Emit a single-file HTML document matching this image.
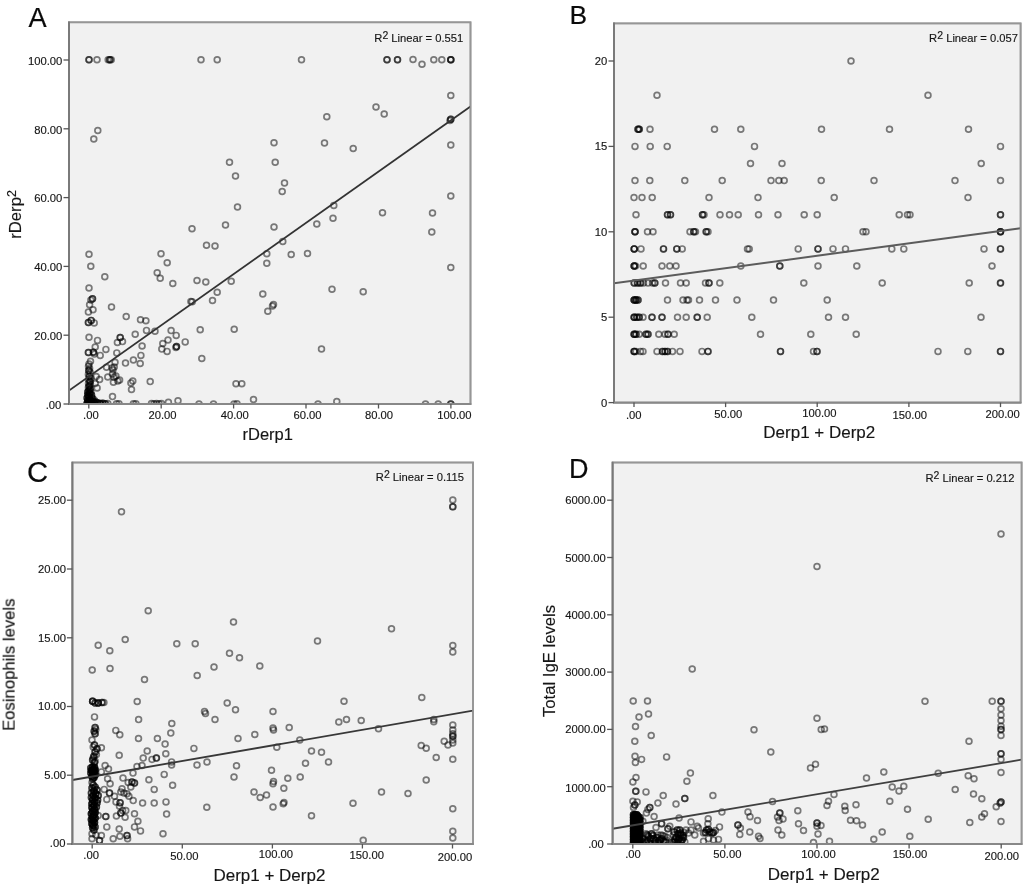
<!DOCTYPE html>
<html lang="en"><head><meta charset="utf-8"><title>Figure</title>
<style>html,body{margin:0;padding:0;background:#fff}svg{display:block}text{font-family:"Liberation Sans", sans-serif;fill:#161616;stroke:#161616;stroke-width:.15px}.tk{font-size:11.25px}.r2{font-size:11.2px}.ttl{font-size:16px;stroke-width:.15px}.let{font-size:27px;fill:#0a0a0a;stroke-width:.2px}.fr{fill:#f1f1f1;stroke:#969696;stroke-width:1.7}.t{stroke:#555;stroke-width:1.3}.ln{stroke:#3a3a3a;stroke-width:1.8}.p circle{fill:none;stroke:#000;stroke-opacity:.5;stroke-width:1.7}</style></head><body>
<svg width="1024" height="885" viewBox="0 0 1024 885">
<defs><filter id="soft" x="0" y="0" width="100%" height="100%" filterUnits="userSpaceOnUse" color-interpolation-filters="sRGB"><feGaussianBlur stdDeviation="0.45"/></filter></defs>
<rect width="1024" height="885" fill="#fff"/>
<g filter="url(#soft)">
<g id="panelA">
<clipPath id="cA"><rect x="69.0" y="22.3" width="401.5" height="381.7"/></clipPath>
<rect class="fr" x="69.0" y="22.3" width="401.5" height="381.7"/>
<g class="p" clip-path="url(#cA)">
<circle cx="89" cy="59.8" r="2.9"/>
<circle cx="89" cy="59.8" r="2.9"/>
<circle cx="97" cy="59.8" r="2.9"/>
<circle cx="108.2" cy="59.8" r="2.9"/>
<circle cx="109.8" cy="59.8" r="2.9"/>
<circle cx="109.8" cy="59.8" r="2.9"/>
<circle cx="111.2" cy="59.8" r="2.9"/>
<circle cx="201" cy="59.8" r="2.9"/>
<circle cx="217.2" cy="59.8" r="2.9"/>
<circle cx="301.5" cy="59.8" r="2.9"/>
<circle cx="97.8" cy="130.5" r="2.9"/>
<circle cx="93.8" cy="139" r="2.9"/>
<circle cx="274" cy="142.8" r="2.9"/>
<circle cx="229.5" cy="162.2" r="2.9"/>
<circle cx="275.2" cy="162.2" r="2.9"/>
<circle cx="235.5" cy="176" r="2.9"/>
<circle cx="284.5" cy="183" r="2.9"/>
<circle cx="282.2" cy="191.5" r="2.9"/>
<circle cx="237.5" cy="207" r="2.9"/>
<circle cx="225.5" cy="225" r="2.9"/>
<circle cx="192" cy="228.8" r="2.9"/>
<circle cx="274" cy="227" r="2.9"/>
<circle cx="316.8" cy="224" r="2.9"/>
<circle cx="206.5" cy="245.2" r="2.9"/>
<circle cx="215" cy="246" r="2.9"/>
<circle cx="282.8" cy="241.5" r="2.9"/>
<circle cx="266.8" cy="253.8" r="2.9"/>
<circle cx="291.2" cy="254.5" r="2.9"/>
<circle cx="307.5" cy="253.5" r="2.9"/>
<circle cx="266.8" cy="263.2" r="2.9"/>
<circle cx="89" cy="254.2" r="2.9"/>
<circle cx="90.8" cy="266.2" r="2.9"/>
<circle cx="161" cy="253.8" r="2.9"/>
<circle cx="167.2" cy="262.8" r="2.9"/>
<circle cx="157.2" cy="272.8" r="2.9"/>
<circle cx="160.2" cy="278.2" r="2.9"/>
<circle cx="104.8" cy="276.8" r="2.9"/>
<circle cx="172.8" cy="283.5" r="2.9"/>
<circle cx="197" cy="280.5" r="2.9"/>
<circle cx="205.8" cy="282" r="2.9"/>
<circle cx="231.2" cy="281.2" r="2.9"/>
<circle cx="89" cy="288" r="2.9"/>
<circle cx="217.2" cy="292.2" r="2.9"/>
<circle cx="262.8" cy="294" r="2.9"/>
<circle cx="212.5" cy="300.5" r="2.9"/>
<circle cx="192.2" cy="301.8" r="2.9"/>
<circle cx="273.5" cy="304.5" r="2.9"/>
<circle cx="272.5" cy="306" r="2.9"/>
<circle cx="267.8" cy="311.2" r="2.9"/>
<circle cx="200.2" cy="329.8" r="2.9"/>
<circle cx="234.2" cy="329.2" r="2.9"/>
<circle cx="201.8" cy="358.5" r="2.9"/>
<circle cx="236" cy="383.8" r="2.9"/>
<circle cx="241.8" cy="383.8" r="2.9"/>
<circle cx="253.5" cy="399.5" r="2.9"/>
<circle cx="199" cy="404" r="2.9"/>
<circle cx="213.5" cy="404" r="2.9"/>
<circle cx="234" cy="404" r="2.9"/>
<circle cx="237" cy="403.8" r="2.9"/>
<circle cx="92.5" cy="298.8" r="2.9"/>
<circle cx="92.5" cy="298.8" r="2.9"/>
<circle cx="90.9" cy="300" r="2.9"/>
<circle cx="89.6" cy="304.8" r="2.9"/>
<circle cx="93" cy="309.8" r="2.9"/>
<circle cx="88.4" cy="312" r="2.9"/>
<circle cx="111.5" cy="307" r="2.9"/>
<circle cx="126.2" cy="316.6" r="2.9"/>
<circle cx="88.4" cy="322.5" r="2.9"/>
<circle cx="88.4" cy="322.5" r="2.9"/>
<circle cx="91.2" cy="320.4" r="2.9"/>
<circle cx="91.2" cy="320.4" r="2.9"/>
<circle cx="94.2" cy="322.9" r="2.9"/>
<circle cx="140.5" cy="319.8" r="2.9"/>
<circle cx="145.9" cy="320.8" r="2.9"/>
<circle cx="146.5" cy="330.4" r="2.9"/>
<circle cx="155" cy="331.2" r="2.9"/>
<circle cx="171.1" cy="330.6" r="2.9"/>
<circle cx="176.2" cy="335.4" r="2.9"/>
<circle cx="135.2" cy="334.2" r="2.9"/>
<circle cx="89" cy="337.2" r="2.9"/>
<circle cx="97.5" cy="340.4" r="2.9"/>
<circle cx="120.2" cy="337.5" r="2.9"/>
<circle cx="120.2" cy="337.5" r="2.9"/>
<circle cx="117.4" cy="342.5" r="2.9"/>
<circle cx="122.5" cy="341.6" r="2.9"/>
<circle cx="168" cy="340" r="2.9"/>
<circle cx="162.8" cy="343.5" r="2.9"/>
<circle cx="185.2" cy="341.9" r="2.9"/>
<circle cx="176.5" cy="346.6" r="2.9"/>
<circle cx="176.5" cy="346.6" r="2.9"/>
<circle cx="175.9" cy="347.6" r="2.9"/>
<circle cx="142.1" cy="346" r="2.9"/>
<circle cx="161.8" cy="349.1" r="2.9"/>
<circle cx="167.1" cy="351.4" r="2.9"/>
<circle cx="95.2" cy="347" r="2.9"/>
<circle cx="105.9" cy="349.4" r="2.9"/>
<circle cx="88.4" cy="352.5" r="2.9"/>
<circle cx="88.4" cy="352.5" r="2.9"/>
<circle cx="93.4" cy="352.2" r="2.9"/>
<circle cx="93.4" cy="352.2" r="2.9"/>
<circle cx="94.4" cy="354.1" r="2.9"/>
<circle cx="100.2" cy="355.4" r="2.9"/>
<circle cx="116.8" cy="352.9" r="2.9"/>
<circle cx="140.9" cy="355.4" r="2.9"/>
<circle cx="133.4" cy="360" r="2.9"/>
<circle cx="140.2" cy="363.5" r="2.9"/>
<circle cx="125.5" cy="363.1" r="2.9"/>
<circle cx="115" cy="362.2" r="2.9"/>
<circle cx="106.5" cy="367.2" r="2.9"/>
<circle cx="112.1" cy="367.9" r="2.9"/>
<circle cx="114.2" cy="367" r="2.9"/>
<circle cx="113" cy="369.8" r="2.9"/>
<circle cx="107.8" cy="377" r="2.9"/>
<circle cx="112.5" cy="374.1" r="2.9"/>
<circle cx="114" cy="377.2" r="2.9"/>
<circle cx="113.4" cy="382.2" r="2.9"/>
<circle cx="117.8" cy="381" r="2.9"/>
<circle cx="119.6" cy="380" r="2.9"/>
<circle cx="115.9" cy="376" r="2.9"/>
<circle cx="96.2" cy="376.6" r="2.9"/>
<circle cx="99.6" cy="379.5" r="2.9"/>
<circle cx="95.2" cy="383.5" r="2.9"/>
<circle cx="97.1" cy="387.9" r="2.9"/>
<circle cx="132.8" cy="381" r="2.9"/>
<circle cx="130.9" cy="382.9" r="2.9"/>
<circle cx="150.2" cy="381.6" r="2.9"/>
<circle cx="131.5" cy="389.5" r="2.9"/>
<circle cx="112.5" cy="396.6" r="2.9"/>
<circle cx="116.5" cy="403.8" r="2.9"/>
<circle cx="119" cy="403.8" r="2.9"/>
<circle cx="133.4" cy="403.8" r="2.9"/>
<circle cx="135.9" cy="403.8" r="2.9"/>
<circle cx="151.5" cy="403.5" r="2.9"/>
<circle cx="154" cy="403.8" r="2.9"/>
<circle cx="156.5" cy="403.5" r="2.9"/>
<circle cx="159" cy="403.8" r="2.9"/>
<circle cx="161.5" cy="403.5" r="2.9"/>
<circle cx="168.4" cy="402.2" r="2.9"/>
<circle cx="178" cy="400.8" r="2.9"/>
<circle cx="190.9" cy="301.6" r="2.9"/>
<circle cx="90.5" cy="361.2" r="2.9"/>
<circle cx="89" cy="364.1" r="2.9"/>
<circle cx="88.5" cy="366.2" r="2.9"/>
<circle cx="89.6" cy="368.5" r="2.9"/>
<circle cx="88.8" cy="370.6" r="2.9"/>
<circle cx="88.8" cy="370.6" r="2.9"/>
<circle cx="90.2" cy="372.5" r="2.9"/>
<circle cx="88.4" cy="374.5" r="2.9"/>
<circle cx="89.4" cy="376.4" r="2.9"/>
<circle cx="89.4" cy="376.4" r="2.9"/>
<circle cx="90.9" cy="378.1" r="2.9"/>
<circle cx="88.8" cy="379.8" r="2.9"/>
<circle cx="90" cy="381.5" r="2.9"/>
<circle cx="90" cy="381.5" r="2.9"/>
<circle cx="88.5" cy="383.2" r="2.9"/>
<circle cx="90.5" cy="384.5" r="2.9"/>
<circle cx="89.2" cy="386" r="2.9"/>
<circle cx="89.2" cy="386" r="2.9"/>
<circle cx="88.4" cy="387.6" r="2.9"/>
<circle cx="90.2" cy="389.1" r="2.9"/>
<circle cx="90.2" cy="389.1" r="2.9"/>
<circle cx="89" cy="390.6" r="2.9"/>
<circle cx="89" cy="390.6" r="2.9"/>
<circle cx="87.8" cy="392" r="2.9"/>
<circle cx="87.8" cy="392" r="2.9"/>
<circle cx="90.9" cy="392" r="2.9"/>
<circle cx="89.6" cy="393.5" r="2.9"/>
<circle cx="89.6" cy="393.5" r="2.9"/>
<circle cx="89.6" cy="393.5" r="2.9"/>
<circle cx="87.8" cy="395" r="2.9"/>
<circle cx="87.8" cy="395" r="2.9"/>
<circle cx="91.5" cy="395" r="2.9"/>
<circle cx="91.5" cy="395" r="2.9"/>
<circle cx="89" cy="396.6" r="2.9"/>
<circle cx="89" cy="396.6" r="2.9"/>
<circle cx="89" cy="396.6" r="2.9"/>
<circle cx="87.1" cy="397.9" r="2.9"/>
<circle cx="87.1" cy="397.9" r="2.9"/>
<circle cx="92.1" cy="397.9" r="2.9"/>
<circle cx="92.1" cy="397.9" r="2.9"/>
<circle cx="89.6" cy="399.1" r="2.9"/>
<circle cx="89.6" cy="399.1" r="2.9"/>
<circle cx="89.6" cy="399.1" r="2.9"/>
<circle cx="94" cy="399.8" r="2.9"/>
<circle cx="87.8" cy="400.8" r="2.9"/>
<circle cx="87.8" cy="400.8" r="2.9"/>
<circle cx="87.8" cy="400.8" r="2.9"/>
<circle cx="90.9" cy="401" r="2.9"/>
<circle cx="90.9" cy="401" r="2.9"/>
<circle cx="90.9" cy="401" r="2.9"/>
<circle cx="93.4" cy="401.6" r="2.9"/>
<circle cx="93.4" cy="401.6" r="2.9"/>
<circle cx="95.9" cy="402" r="2.9"/>
<circle cx="95.9" cy="402" r="2.9"/>
<circle cx="89" cy="402.5" r="2.9"/>
<circle cx="89" cy="402.5" r="2.9"/>
<circle cx="89" cy="402.5" r="2.9"/>
<circle cx="89" cy="402.5" r="2.9"/>
<circle cx="91.5" cy="402.9" r="2.9"/>
<circle cx="91.5" cy="402.9" r="2.9"/>
<circle cx="91.5" cy="402.9" r="2.9"/>
<circle cx="94.6" cy="403.2" r="2.9"/>
<circle cx="94.6" cy="403.2" r="2.9"/>
<circle cx="94.6" cy="403.2" r="2.9"/>
<circle cx="97.8" cy="403" r="2.9"/>
<circle cx="97.8" cy="403" r="2.9"/>
<circle cx="100.2" cy="403.5" r="2.9"/>
<circle cx="100.2" cy="403.5" r="2.9"/>
<circle cx="100.2" cy="403.5" r="2.9"/>
<circle cx="102.8" cy="403.2" r="2.9"/>
<circle cx="102.8" cy="403.2" r="2.9"/>
<circle cx="105.2" cy="403.8" r="2.9"/>
<circle cx="105.2" cy="403.8" r="2.9"/>
<circle cx="107.8" cy="403.5" r="2.9"/>
<circle cx="87.1" cy="403.5" r="2.9"/>
<circle cx="87.1" cy="403.5" r="2.9"/>
<circle cx="87.1" cy="403.5" r="2.9"/>
<circle cx="89.6" cy="404" r="2.9"/>
<circle cx="89.6" cy="404" r="2.9"/>
<circle cx="89.6" cy="404" r="2.9"/>
<circle cx="89.6" cy="404" r="2.9"/>
<circle cx="92.1" cy="404" r="2.9"/>
<circle cx="92.1" cy="404" r="2.9"/>
<circle cx="92.1" cy="404" r="2.9"/>
<circle cx="387" cy="59.8" r="2.9"/>
<circle cx="387" cy="59.8" r="2.9"/>
<circle cx="397.5" cy="59.8" r="2.9"/>
<circle cx="397.5" cy="59.8" r="2.9"/>
<circle cx="413" cy="59.5" r="2.9"/>
<circle cx="422" cy="64.2" r="2.9"/>
<circle cx="433.8" cy="59.8" r="2.9"/>
<circle cx="441.8" cy="59.8" r="2.9"/>
<circle cx="450.8" cy="59.8" r="2.9"/>
<circle cx="450.8" cy="59.8" r="2.9"/>
<circle cx="450.8" cy="59.8" r="2.9"/>
<circle cx="450.8" cy="95.5" r="2.9"/>
<circle cx="376" cy="107" r="2.9"/>
<circle cx="384.2" cy="114" r="2.9"/>
<circle cx="326.8" cy="116.8" r="2.9"/>
<circle cx="450.8" cy="119.2" r="2.9"/>
<circle cx="450.8" cy="119.2" r="2.9"/>
<circle cx="450" cy="120.5" r="2.9"/>
<circle cx="324.5" cy="143" r="2.9"/>
<circle cx="353.2" cy="148.5" r="2.9"/>
<circle cx="450.8" cy="145" r="2.9"/>
<circle cx="450.8" cy="196" r="2.9"/>
<circle cx="333.8" cy="205.5" r="2.9"/>
<circle cx="333" cy="218.2" r="2.9"/>
<circle cx="382.5" cy="212.8" r="2.9"/>
<circle cx="432.5" cy="213" r="2.9"/>
<circle cx="431.8" cy="232" r="2.9"/>
<circle cx="450.8" cy="267.5" r="2.9"/>
<circle cx="332" cy="289.2" r="2.9"/>
<circle cx="363.2" cy="291.8" r="2.9"/>
<circle cx="321.5" cy="349" r="2.9"/>
<circle cx="336.8" cy="401.5" r="2.9"/>
<circle cx="318" cy="404" r="2.9"/>
<circle cx="425.5" cy="404" r="2.9"/>
<circle cx="438.2" cy="404" r="2.9"/>
<circle cx="450.8" cy="404" r="2.9"/>
<circle cx="450.8" cy="404" r="2.9"/>
<line x1="69.0" y1="390.6" x2="470.5" y2="106.5" stroke="#333" stroke-width="1.8"/>
</g>
<rect x="69.0" y="22.3" width="401.5" height="381.7" fill="none" stroke="#969696" stroke-width="1.7"/>
<path d="M69.0 21.5V404.0" fill="none" stroke="#787878" stroke-width="1.8"/>
<path d="M68.1 404.0H471.3" fill="none" stroke="#888" stroke-width="1.8"/>
<line class="t" x1="88.8" y1="404.0" x2="88.8" y2="408.5"/>
<text class="tk" text-anchor="middle" x="90.9" y="419.4">.00</text>
<line class="t" x1="161.2" y1="404.0" x2="161.2" y2="408.5"/>
<text class="tk" text-anchor="middle" x="162.5" y="419.1">20.00</text>
<line class="t" x1="233.6" y1="404.0" x2="233.6" y2="408.5"/>
<text class="tk" text-anchor="middle" x="234.8" y="418.9">40.00</text>
<line class="t" x1="306" y1="404.0" x2="306" y2="408.5"/>
<text class="tk" text-anchor="middle" x="307.5" y="419.4">60.00</text>
<line class="t" x1="378.5" y1="404.0" x2="378.5" y2="408.5"/>
<text class="tk" text-anchor="middle" x="379" y="419.4">80.00</text>
<line class="t" x1="450.9" y1="404.0" x2="450.9" y2="408.5"/>
<text class="tk" text-anchor="middle" x="454.4" y="419.4">100.00</text>
<line class="t" x1="63.5" y1="404" x2="69.0" y2="404"/>
<text class="tk" text-anchor="end" x="61.3" y="408.8">.00</text>
<line class="t" x1="63.5" y1="335.2" x2="69.0" y2="335.2"/>
<text class="tk" text-anchor="end" x="62.3" y="340">20.00</text>
<line class="t" x1="63.5" y1="266.4" x2="69.0" y2="266.4"/>
<text class="tk" text-anchor="end" x="62.3" y="271.2">40.00</text>
<line class="t" x1="63.5" y1="197.6" x2="69.0" y2="197.6"/>
<text class="tk" text-anchor="end" x="62.3" y="202.4">60.00</text>
<line class="t" x1="63.5" y1="128.8" x2="69.0" y2="128.8"/>
<text class="tk" text-anchor="end" x="62.3" y="133.6">80.00</text>
<line class="t" x1="63.5" y1="60" x2="69.0" y2="60"/>
<text class="tk" text-anchor="end" x="62.3" y="64.8">100.00</text>
<text class="r2" text-anchor="end" x="463.2" y="42.0">R<tspan dy="-3" font-size="10.5">2</tspan><tspan dy="3"> Linear = 0.551</tspan></text>
<text class="let" style="font-size:27.2px" x="28.5" y="27.0">A</text>
<text class="ttl" style="font-size:16.5px" text-anchor="middle" x="267.7" y="439.5">rDerp1</text>
<text class="ttl" style="font-size:16.7px" transform="translate(21.2 238.8) rotate(-90)">rDerp<tspan dy="-5" font-size="12.5">2</tspan></text>
</g>
<g id="panelB">
<clipPath id="cB"><rect x="614.0" y="23.4" width="406.6" height="379.2"/></clipPath>
<rect class="fr" x="614.0" y="23.4" width="406.6" height="379.2"/>
<g class="p" clip-path="url(#cB)">
<circle cx="851" cy="61" r="2.9"/>
<circle cx="657" cy="95.2" r="2.9"/>
<circle cx="638" cy="129.3" r="2.9"/>
<circle cx="638" cy="129.3" r="2.9"/>
<circle cx="639.2" cy="129.3" r="2.9"/>
<circle cx="639.2" cy="129.3" r="2.9"/>
<circle cx="650" cy="129.3" r="2.9"/>
<circle cx="714.5" cy="129.3" r="2.9"/>
<circle cx="740.8" cy="129.3" r="2.9"/>
<circle cx="821.5" cy="129.3" r="2.9"/>
<circle cx="635" cy="146.4" r="2.9"/>
<circle cx="650.2" cy="146.4" r="2.9"/>
<circle cx="667.2" cy="146.4" r="2.9"/>
<circle cx="754.5" cy="146.4" r="2.9"/>
<circle cx="750.5" cy="163.5" r="2.9"/>
<circle cx="782" cy="163.5" r="2.9"/>
<circle cx="635" cy="180.6" r="2.9"/>
<circle cx="649.8" cy="180.6" r="2.9"/>
<circle cx="684.8" cy="180.6" r="2.9"/>
<circle cx="722.2" cy="180.6" r="2.9"/>
<circle cx="771" cy="180.6" r="2.9"/>
<circle cx="778.8" cy="180.6" r="2.9"/>
<circle cx="784.2" cy="180.6" r="2.9"/>
<circle cx="821.2" cy="180.6" r="2.9"/>
<circle cx="634" cy="197.6" r="2.9"/>
<circle cx="642" cy="197.6" r="2.9"/>
<circle cx="652.2" cy="197.6" r="2.9"/>
<circle cx="709" cy="197.6" r="2.9"/>
<circle cx="758" cy="197.6" r="2.9"/>
<circle cx="834.2" cy="197.6" r="2.9"/>
<circle cx="636" cy="214.7" r="2.9"/>
<circle cx="667.5" cy="214.7" r="2.9"/>
<circle cx="667.5" cy="214.7" r="2.9"/>
<circle cx="670.5" cy="214.7" r="2.9"/>
<circle cx="670.5" cy="214.7" r="2.9"/>
<circle cx="702.5" cy="214.7" r="2.9"/>
<circle cx="702.5" cy="214.7" r="2.9"/>
<circle cx="704" cy="214.7" r="2.9"/>
<circle cx="720" cy="214.7" r="2.9"/>
<circle cx="729.5" cy="214.7" r="2.9"/>
<circle cx="738.2" cy="214.7" r="2.9"/>
<circle cx="758.5" cy="214.7" r="2.9"/>
<circle cx="778" cy="214.7" r="2.9"/>
<circle cx="804.2" cy="214.7" r="2.9"/>
<circle cx="817.2" cy="214.7" r="2.9"/>
<circle cx="635" cy="231.8" r="2.9"/>
<circle cx="635" cy="231.8" r="2.9"/>
<circle cx="635" cy="231.8" r="2.9"/>
<circle cx="647.5" cy="231.8" r="2.9"/>
<circle cx="653" cy="231.8" r="2.9"/>
<circle cx="690" cy="231.8" r="2.9"/>
<circle cx="693.8" cy="231.8" r="2.9"/>
<circle cx="693.8" cy="231.8" r="2.9"/>
<circle cx="695.5" cy="231.8" r="2.9"/>
<circle cx="706.2" cy="231.8" r="2.9"/>
<circle cx="706.2" cy="231.8" r="2.9"/>
<circle cx="708" cy="231.8" r="2.9"/>
<circle cx="634.2" cy="248.9" r="2.9"/>
<circle cx="634.2" cy="248.9" r="2.9"/>
<circle cx="634.2" cy="248.9" r="2.9"/>
<circle cx="641" cy="248.9" r="2.9"/>
<circle cx="663.5" cy="248.9" r="2.9"/>
<circle cx="663.5" cy="248.9" r="2.9"/>
<circle cx="676.8" cy="248.9" r="2.9"/>
<circle cx="676.8" cy="248.9" r="2.9"/>
<circle cx="682.2" cy="248.9" r="2.9"/>
<circle cx="747.5" cy="248.9" r="2.9"/>
<circle cx="749.2" cy="248.9" r="2.9"/>
<circle cx="798.2" cy="248.9" r="2.9"/>
<circle cx="818" cy="248.9" r="2.9"/>
<circle cx="818" cy="248.9" r="2.9"/>
<circle cx="833" cy="248.9" r="2.9"/>
<circle cx="845.5" cy="248.9" r="2.9"/>
<circle cx="634.2" cy="266" r="2.9"/>
<circle cx="634.2" cy="266" r="2.9"/>
<circle cx="634.2" cy="266" r="2.9"/>
<circle cx="635.5" cy="266" r="2.9"/>
<circle cx="643.2" cy="266" r="2.9"/>
<circle cx="662" cy="266" r="2.9"/>
<circle cx="669.8" cy="266" r="2.9"/>
<circle cx="676" cy="266" r="2.9"/>
<circle cx="740.8" cy="266" r="2.9"/>
<circle cx="779.8" cy="266" r="2.9"/>
<circle cx="779.8" cy="266" r="2.9"/>
<circle cx="818" cy="266" r="2.9"/>
<circle cx="856.8" cy="266" r="2.9"/>
<circle cx="634.2" cy="283" r="2.9"/>
<circle cx="634.2" cy="283" r="2.9"/>
<circle cx="637.5" cy="283" r="2.9"/>
<circle cx="637.5" cy="283" r="2.9"/>
<circle cx="640.5" cy="283" r="2.9"/>
<circle cx="640.5" cy="283" r="2.9"/>
<circle cx="643.5" cy="283" r="2.9"/>
<circle cx="648" cy="283" r="2.9"/>
<circle cx="652.5" cy="283" r="2.9"/>
<circle cx="654.8" cy="283" r="2.9"/>
<circle cx="654.8" cy="283" r="2.9"/>
<circle cx="665.5" cy="283" r="2.9"/>
<circle cx="680.5" cy="283" r="2.9"/>
<circle cx="686.2" cy="283" r="2.9"/>
<circle cx="705.5" cy="283" r="2.9"/>
<circle cx="709" cy="283" r="2.9"/>
<circle cx="709" cy="283" r="2.9"/>
<circle cx="719.8" cy="283" r="2.9"/>
<circle cx="803.8" cy="283" r="2.9"/>
<circle cx="634.2" cy="300.1" r="2.9"/>
<circle cx="634.2" cy="300.1" r="2.9"/>
<circle cx="634.2" cy="300.1" r="2.9"/>
<circle cx="636" cy="300.1" r="2.9"/>
<circle cx="636" cy="300.1" r="2.9"/>
<circle cx="636" cy="300.1" r="2.9"/>
<circle cx="638" cy="300.1" r="2.9"/>
<circle cx="638" cy="300.1" r="2.9"/>
<circle cx="667.5" cy="300.1" r="2.9"/>
<circle cx="683" cy="300.1" r="2.9"/>
<circle cx="687" cy="300.1" r="2.9"/>
<circle cx="688.5" cy="300.1" r="2.9"/>
<circle cx="699.5" cy="300.1" r="2.9"/>
<circle cx="715.5" cy="300.1" r="2.9"/>
<circle cx="737" cy="300.1" r="2.9"/>
<circle cx="773.5" cy="300.1" r="2.9"/>
<circle cx="827.2" cy="300.1" r="2.9"/>
<circle cx="634.2" cy="317.2" r="2.9"/>
<circle cx="634.2" cy="317.2" r="2.9"/>
<circle cx="634.2" cy="317.2" r="2.9"/>
<circle cx="636.8" cy="317.2" r="2.9"/>
<circle cx="636.8" cy="317.2" r="2.9"/>
<circle cx="639.2" cy="317.2" r="2.9"/>
<circle cx="639.2" cy="317.2" r="2.9"/>
<circle cx="643" cy="317.2" r="2.9"/>
<circle cx="652" cy="317.2" r="2.9"/>
<circle cx="652" cy="317.2" r="2.9"/>
<circle cx="662" cy="317.2" r="2.9"/>
<circle cx="662" cy="317.2" r="2.9"/>
<circle cx="677.5" cy="317.2" r="2.9"/>
<circle cx="686.2" cy="317.2" r="2.9"/>
<circle cx="697.2" cy="317.2" r="2.9"/>
<circle cx="697.2" cy="317.2" r="2.9"/>
<circle cx="707.2" cy="317.2" r="2.9"/>
<circle cx="751.8" cy="317.2" r="2.9"/>
<circle cx="828.5" cy="317.2" r="2.9"/>
<circle cx="845.5" cy="317.2" r="2.9"/>
<circle cx="634.2" cy="334.3" r="2.9"/>
<circle cx="634.2" cy="334.3" r="2.9"/>
<circle cx="634.2" cy="334.3" r="2.9"/>
<circle cx="636" cy="334.3" r="2.9"/>
<circle cx="636" cy="334.3" r="2.9"/>
<circle cx="639.2" cy="334.3" r="2.9"/>
<circle cx="646" cy="334.3" r="2.9"/>
<circle cx="646" cy="334.3" r="2.9"/>
<circle cx="648" cy="334.3" r="2.9"/>
<circle cx="648" cy="334.3" r="2.9"/>
<circle cx="658.8" cy="334.3" r="2.9"/>
<circle cx="665" cy="334.3" r="2.9"/>
<circle cx="668" cy="334.3" r="2.9"/>
<circle cx="668" cy="334.3" r="2.9"/>
<circle cx="674.2" cy="334.3" r="2.9"/>
<circle cx="760.5" cy="334.3" r="2.9"/>
<circle cx="810.8" cy="334.3" r="2.9"/>
<circle cx="856.2" cy="334.3" r="2.9"/>
<circle cx="634.2" cy="351.4" r="2.9"/>
<circle cx="634.2" cy="351.4" r="2.9"/>
<circle cx="634.2" cy="351.4" r="2.9"/>
<circle cx="636" cy="351.4" r="2.9"/>
<circle cx="640.5" cy="351.4" r="2.9"/>
<circle cx="643" cy="351.4" r="2.9"/>
<circle cx="657" cy="351.4" r="2.9"/>
<circle cx="662.5" cy="351.4" r="2.9"/>
<circle cx="662.5" cy="351.4" r="2.9"/>
<circle cx="665" cy="351.4" r="2.9"/>
<circle cx="665" cy="351.4" r="2.9"/>
<circle cx="667.5" cy="351.4" r="2.9"/>
<circle cx="667.5" cy="351.4" r="2.9"/>
<circle cx="672.5" cy="351.4" r="2.9"/>
<circle cx="680" cy="351.4" r="2.9"/>
<circle cx="702" cy="351.4" r="2.9"/>
<circle cx="708" cy="351.4" r="2.9"/>
<circle cx="708" cy="351.4" r="2.9"/>
<circle cx="780.5" cy="351.4" r="2.9"/>
<circle cx="780.5" cy="351.4" r="2.9"/>
<circle cx="813.5" cy="351.4" r="2.9"/>
<circle cx="817" cy="351.4" r="2.9"/>
<circle cx="817" cy="351.4" r="2.9"/>
<circle cx="928" cy="95.2" r="2.9"/>
<circle cx="889.5" cy="129.3" r="2.9"/>
<circle cx="968.5" cy="129.3" r="2.9"/>
<circle cx="1000.5" cy="146.4" r="2.9"/>
<circle cx="981.2" cy="163.5" r="2.9"/>
<circle cx="874" cy="180.6" r="2.9"/>
<circle cx="955" cy="180.6" r="2.9"/>
<circle cx="1000.5" cy="180.6" r="2.9"/>
<circle cx="968" cy="197.6" r="2.9"/>
<circle cx="899.2" cy="214.7" r="2.9"/>
<circle cx="907.5" cy="214.7" r="2.9"/>
<circle cx="910" cy="214.7" r="2.9"/>
<circle cx="1000.5" cy="214.7" r="2.9"/>
<circle cx="1000.5" cy="214.7" r="2.9"/>
<circle cx="863" cy="231.8" r="2.9"/>
<circle cx="866" cy="231.8" r="2.9"/>
<circle cx="1000.5" cy="231.8" r="2.9"/>
<circle cx="1000.5" cy="231.8" r="2.9"/>
<circle cx="1000.5" cy="231.8" r="2.9"/>
<circle cx="891.8" cy="248.9" r="2.9"/>
<circle cx="903.8" cy="248.9" r="2.9"/>
<circle cx="984" cy="248.9" r="2.9"/>
<circle cx="1000.5" cy="248.9" r="2.9"/>
<circle cx="1000.5" cy="248.9" r="2.9"/>
<circle cx="992" cy="266" r="2.9"/>
<circle cx="882.2" cy="283" r="2.9"/>
<circle cx="969.2" cy="283" r="2.9"/>
<circle cx="1000.5" cy="283" r="2.9"/>
<circle cx="1000.5" cy="283" r="2.9"/>
<circle cx="981" cy="317.2" r="2.9"/>
<circle cx="938" cy="351.4" r="2.9"/>
<circle cx="967.8" cy="351.4" r="2.9"/>
<circle cx="1000.5" cy="351.4" r="2.9"/>
<circle cx="1000.5" cy="351.4" r="2.9"/>
<line x1="614.0" y1="283.2" x2="1020.6" y2="228.2" stroke="#5c5c5c" stroke-width="2.0"/>
</g>
<rect x="614.0" y="23.4" width="406.6" height="379.2" fill="none" stroke="#969696" stroke-width="1.7"/>
<path d="M614.0 22.6V402.6" fill="none" stroke="#787878" stroke-width="1.8"/>
<path d="M613.1 402.6H1021.4" fill="none" stroke="#888" stroke-width="1.8"/>
<line class="t" x1="634" y1="402.6" x2="634" y2="407.1"/>
<text class="tk" text-anchor="middle" x="633.8" y="419">.00</text>
<line class="t" x1="725.6" y1="402.6" x2="725.6" y2="407.1"/>
<text class="tk" text-anchor="middle" x="728.3" y="418.3">50.00</text>
<line class="t" x1="817.2" y1="402.6" x2="817.2" y2="407.1"/>
<text class="tk" text-anchor="middle" x="819.4" y="417">100.00</text>
<line class="t" x1="908.9" y1="402.6" x2="908.9" y2="407.1"/>
<text class="tk" text-anchor="middle" x="909.8" y="419.2">150.00</text>
<line class="t" x1="1000.5" y1="402.6" x2="1000.5" y2="407.1"/>
<text class="tk" text-anchor="middle" x="1002.6" y="418">200.00</text>
<line class="t" x1="608.5" y1="402.6" x2="614.0" y2="402.6"/>
<text class="tk" text-anchor="end" x="607.2" y="406.6">0</text>
<line class="t" x1="608.5" y1="317.2" x2="614.0" y2="317.2"/>
<text class="tk" text-anchor="end" x="607.2" y="321.2">5</text>
<line class="t" x1="608.5" y1="231.8" x2="614.0" y2="231.8"/>
<text class="tk" text-anchor="end" x="607.2" y="235.8">10</text>
<line class="t" x1="608.5" y1="146.4" x2="614.0" y2="146.4"/>
<text class="tk" text-anchor="end" x="607.2" y="150.4">15</text>
<line class="t" x1="608.5" y1="61" x2="614.0" y2="61"/>
<text class="tk" text-anchor="end" x="607.2" y="65">20</text>
<text class="r2" text-anchor="end" x="1018.0" y="41.7">R<tspan dy="-3" font-size="10.5">2</tspan><tspan dy="3"> Linear = 0.057</tspan></text>
<text class="let" style="font-size:26.4px" x="569.5" y="23.8">B</text>
<text class="ttl" style="font-size:17px" text-anchor="middle" x="819.3" y="438.0">Derp1 + Derp2</text>
</g>
<g id="panelC">
<clipPath id="cC"><rect x="72.4" y="462.5" width="400.6" height="381.5"/></clipPath>
<rect class="fr" x="72.4" y="462.5" width="400.6" height="381.5"/>
<g class="p" clip-path="url(#cC)">
<circle cx="121.5" cy="511.8" r="2.9"/>
<circle cx="148.2" cy="610.8" r="2.9"/>
<circle cx="233.5" cy="622" r="2.9"/>
<circle cx="125.2" cy="639.5" r="2.9"/>
<circle cx="98.2" cy="645.2" r="2.9"/>
<circle cx="109.8" cy="650.8" r="2.9"/>
<circle cx="176.8" cy="643.8" r="2.9"/>
<circle cx="195.2" cy="643.8" r="2.9"/>
<circle cx="317.5" cy="641" r="2.9"/>
<circle cx="229.5" cy="653.2" r="2.9"/>
<circle cx="239.5" cy="657.8" r="2.9"/>
<circle cx="214" cy="667" r="2.9"/>
<circle cx="259.8" cy="666" r="2.9"/>
<circle cx="92.2" cy="670" r="2.9"/>
<circle cx="110" cy="668.5" r="2.9"/>
<circle cx="197.2" cy="675.5" r="2.9"/>
<circle cx="144.5" cy="679.5" r="2.9"/>
<circle cx="204.5" cy="711.5" r="2.9"/>
<circle cx="205.5" cy="713.5" r="2.9"/>
<circle cx="227.2" cy="703" r="2.9"/>
<circle cx="235.5" cy="709.8" r="2.9"/>
<circle cx="215" cy="719.5" r="2.9"/>
<circle cx="273" cy="711.5" r="2.9"/>
<circle cx="273" cy="728" r="2.9"/>
<circle cx="273.5" cy="730" r="2.9"/>
<circle cx="289.2" cy="727.5" r="2.9"/>
<circle cx="254.8" cy="734.5" r="2.9"/>
<circle cx="238" cy="738.5" r="2.9"/>
<circle cx="299.8" cy="740" r="2.9"/>
<circle cx="276.8" cy="747.2" r="2.9"/>
<circle cx="311.5" cy="751" r="2.9"/>
<circle cx="207" cy="762" r="2.9"/>
<circle cx="236.5" cy="765.8" r="2.9"/>
<circle cx="305.5" cy="763.2" r="2.9"/>
<circle cx="271.5" cy="770.2" r="2.9"/>
<circle cx="234" cy="777" r="2.9"/>
<circle cx="287.8" cy="778.2" r="2.9"/>
<circle cx="300.2" cy="777" r="2.9"/>
<circle cx="273.5" cy="781.5" r="2.9"/>
<circle cx="273" cy="783.8" r="2.9"/>
<circle cx="283.8" cy="788.2" r="2.9"/>
<circle cx="254" cy="792" r="2.9"/>
<circle cx="266.5" cy="795" r="2.9"/>
<circle cx="260.2" cy="797.5" r="2.9"/>
<circle cx="284" cy="802.5" r="2.9"/>
<circle cx="283.2" cy="803.8" r="2.9"/>
<circle cx="273" cy="807" r="2.9"/>
<circle cx="206.8" cy="807.2" r="2.9"/>
<circle cx="311.5" cy="815.8" r="2.9"/>
<circle cx="92.6" cy="701.2" r="2.9"/>
<circle cx="92.6" cy="701.2" r="2.9"/>
<circle cx="92.6" cy="701.2" r="2.9"/>
<circle cx="95.1" cy="703.1" r="2.9"/>
<circle cx="95.1" cy="703.1" r="2.9"/>
<circle cx="98.2" cy="703.1" r="2.9"/>
<circle cx="98.2" cy="703.1" r="2.9"/>
<circle cx="98.2" cy="703.1" r="2.9"/>
<circle cx="102" cy="702.5" r="2.9"/>
<circle cx="102" cy="702.5" r="2.9"/>
<circle cx="103.9" cy="702.5" r="2.9"/>
<circle cx="137.2" cy="701.5" r="2.9"/>
<circle cx="94.5" cy="716.9" r="2.9"/>
<circle cx="138.6" cy="719.6" r="2.9"/>
<circle cx="171.8" cy="723.5" r="2.9"/>
<circle cx="95.1" cy="727.5" r="2.9"/>
<circle cx="95.1" cy="727.5" r="2.9"/>
<circle cx="94.2" cy="731.2" r="2.9"/>
<circle cx="94.2" cy="731.2" r="2.9"/>
<circle cx="95.1" cy="733.8" r="2.9"/>
<circle cx="95.1" cy="733.8" r="2.9"/>
<circle cx="115.8" cy="730.4" r="2.9"/>
<circle cx="119.8" cy="734.8" r="2.9"/>
<circle cx="170.8" cy="733.1" r="2.9"/>
<circle cx="92" cy="740" r="2.9"/>
<circle cx="138.5" cy="738.5" r="2.9"/>
<circle cx="157.4" cy="738.5" r="2.9"/>
<circle cx="165.1" cy="744.1" r="2.9"/>
<circle cx="94.5" cy="745" r="2.9"/>
<circle cx="94.5" cy="745" r="2.9"/>
<circle cx="101.4" cy="747.8" r="2.9"/>
<circle cx="97" cy="748.8" r="2.9"/>
<circle cx="97" cy="748.8" r="2.9"/>
<circle cx="95.1" cy="751.9" r="2.9"/>
<circle cx="95.1" cy="751.9" r="2.9"/>
<circle cx="193.9" cy="748.4" r="2.9"/>
<circle cx="147.2" cy="751" r="2.9"/>
<circle cx="165.8" cy="753.8" r="2.9"/>
<circle cx="119.2" cy="755.2" r="2.9"/>
<circle cx="143.2" cy="758.1" r="2.9"/>
<circle cx="93.9" cy="756.2" r="2.9"/>
<circle cx="93.9" cy="756.2" r="2.9"/>
<circle cx="92.6" cy="760" r="2.9"/>
<circle cx="92.6" cy="760" r="2.9"/>
<circle cx="94.5" cy="762.5" r="2.9"/>
<circle cx="94.5" cy="762.5" r="2.9"/>
<circle cx="152" cy="759.4" r="2.9"/>
<circle cx="156.4" cy="758.1" r="2.9"/>
<circle cx="156.4" cy="758.1" r="2.9"/>
<circle cx="171.6" cy="761.9" r="2.9"/>
<circle cx="171.6" cy="765" r="2.9"/>
<circle cx="197" cy="765" r="2.9"/>
<circle cx="105.1" cy="765.6" r="2.9"/>
<circle cx="108.5" cy="769" r="2.9"/>
<circle cx="137" cy="766.5" r="2.9"/>
<circle cx="142" cy="765.6" r="2.9"/>
<circle cx="101.4" cy="771.9" r="2.9"/>
<circle cx="133" cy="773.1" r="2.9"/>
<circle cx="164.2" cy="774.4" r="2.9"/>
<circle cx="107.6" cy="778.8" r="2.9"/>
<circle cx="123" cy="778.1" r="2.9"/>
<circle cx="148.9" cy="779.8" r="2.9"/>
<circle cx="95.8" cy="729.4" r="2.9"/>
<circle cx="93.2" cy="746.9" r="2.9"/>
<circle cx="96.4" cy="754.4" r="2.9"/>
<circle cx="93.2" cy="758.1" r="2.9"/>
<circle cx="95.1" cy="761" r="2.9"/>
<circle cx="92.6" cy="766.9" r="2.9"/>
<circle cx="92.6" cy="766.9" r="2.9"/>
<circle cx="92.6" cy="766.9" r="2.9"/>
<circle cx="94.5" cy="767.5" r="2.9"/>
<circle cx="94.5" cy="767.5" r="2.9"/>
<circle cx="94.5" cy="767.5" r="2.9"/>
<circle cx="90.8" cy="768.1" r="2.9"/>
<circle cx="90.8" cy="768.1" r="2.9"/>
<circle cx="93.2" cy="769.4" r="2.9"/>
<circle cx="93.2" cy="769.4" r="2.9"/>
<circle cx="93.2" cy="769.4" r="2.9"/>
<circle cx="93.2" cy="769.4" r="2.9"/>
<circle cx="95.1" cy="770" r="2.9"/>
<circle cx="95.1" cy="770" r="2.9"/>
<circle cx="95.1" cy="770" r="2.9"/>
<circle cx="91.4" cy="770.6" r="2.9"/>
<circle cx="91.4" cy="770.6" r="2.9"/>
<circle cx="91.4" cy="770.6" r="2.9"/>
<circle cx="92.6" cy="771.9" r="2.9"/>
<circle cx="92.6" cy="771.9" r="2.9"/>
<circle cx="92.6" cy="771.9" r="2.9"/>
<circle cx="92.6" cy="771.9" r="2.9"/>
<circle cx="94.5" cy="772.5" r="2.9"/>
<circle cx="94.5" cy="772.5" r="2.9"/>
<circle cx="94.5" cy="772.5" r="2.9"/>
<circle cx="90.8" cy="773.1" r="2.9"/>
<circle cx="90.8" cy="773.1" r="2.9"/>
<circle cx="93.2" cy="774.4" r="2.9"/>
<circle cx="93.2" cy="774.4" r="2.9"/>
<circle cx="93.2" cy="774.4" r="2.9"/>
<circle cx="93.2" cy="774.4" r="2.9"/>
<circle cx="95.1" cy="775" r="2.9"/>
<circle cx="95.1" cy="775" r="2.9"/>
<circle cx="95.1" cy="775" r="2.9"/>
<circle cx="92" cy="776.2" r="2.9"/>
<circle cx="92" cy="776.2" r="2.9"/>
<circle cx="92" cy="776.2" r="2.9"/>
<circle cx="93.9" cy="777.5" r="2.9"/>
<circle cx="93.9" cy="777.5" r="2.9"/>
<circle cx="93.9" cy="777.5" r="2.9"/>
<circle cx="92.6" cy="778.8" r="2.9"/>
<circle cx="92.6" cy="778.8" r="2.9"/>
<circle cx="92" cy="782.5" r="2.9"/>
<circle cx="110.1" cy="783.8" r="2.9"/>
<circle cx="172.6" cy="785.2" r="2.9"/>
<circle cx="132" cy="781.9" r="2.9"/>
<circle cx="132" cy="781.9" r="2.9"/>
<circle cx="134.5" cy="783.1" r="2.9"/>
<circle cx="134.5" cy="783.1" r="2.9"/>
<circle cx="128.2" cy="782.5" r="2.9"/>
<circle cx="130.8" cy="786.9" r="2.9"/>
<circle cx="154.2" cy="789.4" r="2.9"/>
<circle cx="104.2" cy="789.4" r="2.9"/>
<circle cx="93.9" cy="788.8" r="2.9"/>
<circle cx="109.5" cy="793.1" r="2.9"/>
<circle cx="109.5" cy="793.1" r="2.9"/>
<circle cx="122" cy="788.8" r="2.9"/>
<circle cx="120.8" cy="791.9" r="2.9"/>
<circle cx="123.9" cy="793.1" r="2.9"/>
<circle cx="127" cy="793.8" r="2.9"/>
<circle cx="114.5" cy="796.2" r="2.9"/>
<circle cx="128.9" cy="796.2" r="2.9"/>
<circle cx="106.8" cy="799.4" r="2.9"/>
<circle cx="133.2" cy="800.6" r="2.9"/>
<circle cx="116" cy="801.9" r="2.9"/>
<circle cx="120.1" cy="802.8" r="2.9"/>
<circle cx="120.1" cy="802.8" r="2.9"/>
<circle cx="119.5" cy="806.2" r="2.9"/>
<circle cx="142.6" cy="803.1" r="2.9"/>
<circle cx="154.2" cy="803.1" r="2.9"/>
<circle cx="166" cy="801.9" r="2.9"/>
<circle cx="122.6" cy="810.6" r="2.9"/>
<circle cx="125.8" cy="810.6" r="2.9"/>
<circle cx="120.8" cy="813.1" r="2.9"/>
<circle cx="120.8" cy="813.1" r="2.9"/>
<circle cx="134.5" cy="813.8" r="2.9"/>
<circle cx="166.6" cy="814.1" r="2.9"/>
<circle cx="105.8" cy="816.5" r="2.9"/>
<circle cx="105.8" cy="816.5" r="2.9"/>
<circle cx="116.4" cy="816" r="2.9"/>
<circle cx="125.1" cy="817.2" r="2.9"/>
<circle cx="98.2" cy="815.6" r="2.9"/>
<circle cx="137.9" cy="821.2" r="2.9"/>
<circle cx="106.8" cy="826.9" r="2.9"/>
<circle cx="134.5" cy="826.9" r="2.9"/>
<circle cx="119.2" cy="829" r="2.9"/>
<circle cx="140.5" cy="830.9" r="2.9"/>
<circle cx="163" cy="833.8" r="2.9"/>
<circle cx="101.4" cy="835.6" r="2.9"/>
<circle cx="119.9" cy="836.2" r="2.9"/>
<circle cx="127" cy="835.6" r="2.9"/>
<circle cx="127" cy="835.6" r="2.9"/>
<circle cx="127.6" cy="838.8" r="2.9"/>
<circle cx="113.2" cy="838.8" r="2.9"/>
<circle cx="99.5" cy="840.6" r="2.9"/>
<circle cx="99.5" cy="840.6" r="2.9"/>
<circle cx="92" cy="838.8" r="2.9"/>
<circle cx="93.9" cy="830" r="2.9"/>
<circle cx="93.9" cy="830" r="2.9"/>
<circle cx="92" cy="833.8" r="2.9"/>
<circle cx="95.8" cy="835" r="2.9"/>
<circle cx="93.2" cy="785" r="2.9"/>
<circle cx="93.2" cy="785" r="2.9"/>
<circle cx="95.1" cy="786.9" r="2.9"/>
<circle cx="95.1" cy="786.9" r="2.9"/>
<circle cx="92" cy="788.1" r="2.9"/>
<circle cx="92" cy="788.1" r="2.9"/>
<circle cx="97" cy="790" r="2.9"/>
<circle cx="97" cy="790" r="2.9"/>
<circle cx="93.9" cy="791.2" r="2.9"/>
<circle cx="93.9" cy="791.2" r="2.9"/>
<circle cx="93.9" cy="791.2" r="2.9"/>
<circle cx="91.4" cy="793.1" r="2.9"/>
<circle cx="91.4" cy="793.1" r="2.9"/>
<circle cx="95.8" cy="793.8" r="2.9"/>
<circle cx="95.8" cy="793.8" r="2.9"/>
<circle cx="95.8" cy="793.8" r="2.9"/>
<circle cx="98.2" cy="795.6" r="2.9"/>
<circle cx="98.2" cy="795.6" r="2.9"/>
<circle cx="93.2" cy="795.6" r="2.9"/>
<circle cx="93.2" cy="795.6" r="2.9"/>
<circle cx="93.2" cy="795.6" r="2.9"/>
<circle cx="91.4" cy="797.5" r="2.9"/>
<circle cx="91.4" cy="797.5" r="2.9"/>
<circle cx="95.1" cy="798.1" r="2.9"/>
<circle cx="95.1" cy="798.1" r="2.9"/>
<circle cx="95.1" cy="798.1" r="2.9"/>
<circle cx="97.6" cy="800" r="2.9"/>
<circle cx="97.6" cy="800" r="2.9"/>
<circle cx="92.6" cy="800" r="2.9"/>
<circle cx="92.6" cy="800" r="2.9"/>
<circle cx="92.6" cy="800" r="2.9"/>
<circle cx="94.5" cy="801.9" r="2.9"/>
<circle cx="94.5" cy="801.9" r="2.9"/>
<circle cx="94.5" cy="801.9" r="2.9"/>
<circle cx="97" cy="803.1" r="2.9"/>
<circle cx="97" cy="803.1" r="2.9"/>
<circle cx="92" cy="803.8" r="2.9"/>
<circle cx="92" cy="803.8" r="2.9"/>
<circle cx="92" cy="803.8" r="2.9"/>
<circle cx="93.9" cy="805.6" r="2.9"/>
<circle cx="93.9" cy="805.6" r="2.9"/>
<circle cx="93.9" cy="805.6" r="2.9"/>
<circle cx="93.9" cy="805.6" r="2.9"/>
<circle cx="96.4" cy="806.9" r="2.9"/>
<circle cx="96.4" cy="806.9" r="2.9"/>
<circle cx="92" cy="807.5" r="2.9"/>
<circle cx="92" cy="807.5" r="2.9"/>
<circle cx="92" cy="807.5" r="2.9"/>
<circle cx="94.5" cy="809.4" r="2.9"/>
<circle cx="94.5" cy="809.4" r="2.9"/>
<circle cx="94.5" cy="809.4" r="2.9"/>
<circle cx="94.5" cy="809.4" r="2.9"/>
<circle cx="92.6" cy="811.2" r="2.9"/>
<circle cx="92.6" cy="811.2" r="2.9"/>
<circle cx="92.6" cy="811.2" r="2.9"/>
<circle cx="92.6" cy="811.2" r="2.9"/>
<circle cx="95.1" cy="812.5" r="2.9"/>
<circle cx="95.1" cy="812.5" r="2.9"/>
<circle cx="95.1" cy="812.5" r="2.9"/>
<circle cx="91.4" cy="813.8" r="2.9"/>
<circle cx="91.4" cy="813.8" r="2.9"/>
<circle cx="91.4" cy="813.8" r="2.9"/>
<circle cx="93.9" cy="815" r="2.9"/>
<circle cx="93.9" cy="815" r="2.9"/>
<circle cx="93.9" cy="815" r="2.9"/>
<circle cx="93.9" cy="815" r="2.9"/>
<circle cx="92.6" cy="816.9" r="2.9"/>
<circle cx="92.6" cy="816.9" r="2.9"/>
<circle cx="92.6" cy="816.9" r="2.9"/>
<circle cx="92.6" cy="816.9" r="2.9"/>
<circle cx="95.1" cy="818.1" r="2.9"/>
<circle cx="95.1" cy="818.1" r="2.9"/>
<circle cx="95.1" cy="818.1" r="2.9"/>
<circle cx="91.4" cy="819.4" r="2.9"/>
<circle cx="91.4" cy="819.4" r="2.9"/>
<circle cx="91.4" cy="819.4" r="2.9"/>
<circle cx="93.2" cy="820.6" r="2.9"/>
<circle cx="93.2" cy="820.6" r="2.9"/>
<circle cx="93.2" cy="820.6" r="2.9"/>
<circle cx="93.2" cy="820.6" r="2.9"/>
<circle cx="94.5" cy="822.5" r="2.9"/>
<circle cx="94.5" cy="822.5" r="2.9"/>
<circle cx="94.5" cy="822.5" r="2.9"/>
<circle cx="92" cy="823.8" r="2.9"/>
<circle cx="92" cy="823.8" r="2.9"/>
<circle cx="92" cy="823.8" r="2.9"/>
<circle cx="93.2" cy="825.6" r="2.9"/>
<circle cx="93.2" cy="825.6" r="2.9"/>
<circle cx="93.2" cy="825.6" r="2.9"/>
<circle cx="95.1" cy="826.9" r="2.9"/>
<circle cx="95.1" cy="826.9" r="2.9"/>
<circle cx="92.6" cy="827.8" r="2.9"/>
<circle cx="92.6" cy="827.8" r="2.9"/>
<circle cx="452.8" cy="500" r="2.9"/>
<circle cx="452.8" cy="506.8" r="2.9"/>
<circle cx="452.8" cy="506.8" r="2.9"/>
<circle cx="391.5" cy="628.8" r="2.9"/>
<circle cx="452.8" cy="645.5" r="2.9"/>
<circle cx="452.8" cy="652" r="2.9"/>
<circle cx="344" cy="701.2" r="2.9"/>
<circle cx="421.8" cy="697.5" r="2.9"/>
<circle cx="338.8" cy="722" r="2.9"/>
<circle cx="346.5" cy="719.5" r="2.9"/>
<circle cx="361.2" cy="720.5" r="2.9"/>
<circle cx="378.5" cy="728.8" r="2.9"/>
<circle cx="433.8" cy="719.5" r="2.9"/>
<circle cx="433.8" cy="721.8" r="2.9"/>
<circle cx="452.8" cy="725" r="2.9"/>
<circle cx="452.8" cy="730" r="2.9"/>
<circle cx="452.8" cy="733.8" r="2.9"/>
<circle cx="452.8" cy="736.2" r="2.9"/>
<circle cx="452.8" cy="736.2" r="2.9"/>
<circle cx="452.8" cy="740" r="2.9"/>
<circle cx="452.8" cy="743" r="2.9"/>
<circle cx="444.2" cy="741.2" r="2.9"/>
<circle cx="448" cy="745" r="2.9"/>
<circle cx="421.2" cy="745.5" r="2.9"/>
<circle cx="426.2" cy="748.2" r="2.9"/>
<circle cx="436.2" cy="757.5" r="2.9"/>
<circle cx="452.8" cy="759.2" r="2.9"/>
<circle cx="321.5" cy="752.2" r="2.9"/>
<circle cx="328.5" cy="762" r="2.9"/>
<circle cx="426.2" cy="780" r="2.9"/>
<circle cx="381.5" cy="792" r="2.9"/>
<circle cx="408" cy="793.5" r="2.9"/>
<circle cx="353" cy="803.2" r="2.9"/>
<circle cx="452.8" cy="808.8" r="2.9"/>
<circle cx="452.8" cy="831.2" r="2.9"/>
<circle cx="452.8" cy="838" r="2.9"/>
<circle cx="363.2" cy="840.2" r="2.9"/>
<line x1="72.4" y1="780.0" x2="473.0" y2="710.7" stroke="#383838" stroke-width="1.8"/>
</g>
<rect x="72.4" y="462.5" width="400.6" height="381.5" fill="none" stroke="#969696" stroke-width="1.7"/>
<path d="M72.4 461.7V844.0" fill="none" stroke="#787878" stroke-width="1.8"/>
<path d="M71.5 844.0H473.8" fill="none" stroke="#888" stroke-width="1.8"/>
<line class="t" x1="92.2" y1="844.0" x2="92.2" y2="848.5"/>
<text class="tk" text-anchor="middle" x="91.1" y="859.4">.00</text>
<line class="t" x1="182.3" y1="844.0" x2="182.3" y2="848.5"/>
<text class="tk" text-anchor="middle" x="184.4" y="859.7">50.00</text>
<line class="t" x1="272.4" y1="844.0" x2="272.4" y2="848.5"/>
<text class="tk" text-anchor="middle" x="275.9" y="858.2">100.00</text>
<line class="t" x1="362.4" y1="844.0" x2="362.4" y2="848.5"/>
<text class="tk" text-anchor="middle" x="366.8" y="859.3">150.00</text>
<line class="t" x1="452.5" y1="844.0" x2="452.5" y2="848.5"/>
<text class="tk" text-anchor="middle" x="455" y="861.2">200.00</text>
<line class="t" x1="66.9" y1="844" x2="72.4" y2="844"/>
<text class="tk" text-anchor="end" x="65.5" y="847.3">.00</text>
<line class="t" x1="66.9" y1="775.2" x2="72.4" y2="775.2"/>
<text class="tk" text-anchor="end" x="66.1" y="779">5.00</text>
<line class="t" x1="66.9" y1="706.5" x2="72.4" y2="706.5"/>
<text class="tk" text-anchor="end" x="66.1" y="710.3">10.00</text>
<line class="t" x1="66.9" y1="637.8" x2="72.4" y2="637.8"/>
<text class="tk" text-anchor="end" x="66.1" y="641.5">15.00</text>
<line class="t" x1="66.9" y1="569" x2="72.4" y2="569"/>
<text class="tk" text-anchor="end" x="66.1" y="572.8">20.00</text>
<line class="t" x1="66.9" y1="500.2" x2="72.4" y2="500.2"/>
<text class="tk" text-anchor="end" x="66.1" y="504.1">25.00</text>
<text class="r2" text-anchor="end" x="463.9" y="480.5">R<tspan dy="-3" font-size="10.5">2</tspan><tspan dy="3"> Linear = 0.115</tspan></text>
<text class="let" style="font-size:29.2px" x="27.0" y="481.7">C</text>
<text class="ttl" style="font-size:17px" text-anchor="middle" x="269.4" y="881.0">Derp1 + Derp2</text>
<text class="ttl" style="font-size:16.65px" transform="translate(14.6 730.8) rotate(-90)">Eosinophils levels</text>
</g>
<g id="panelD">
<clipPath id="cD"><rect x="612.6" y="462.5" width="409" height="381.5"/></clipPath>
<rect class="fr" x="612.6" y="462.5" width="409" height="381.5"/>
<g class="p" clip-path="url(#cD)">
<circle cx="817" cy="566.5" r="2.9"/>
<circle cx="692.2" cy="669" r="2.9"/>
<circle cx="633.2" cy="701" r="2.9"/>
<circle cx="647.5" cy="701" r="2.9"/>
<circle cx="648.5" cy="714" r="2.9"/>
<circle cx="639" cy="717" r="2.9"/>
<circle cx="635.5" cy="726.5" r="2.9"/>
<circle cx="651.2" cy="735.5" r="2.9"/>
<circle cx="754" cy="729.8" r="2.9"/>
<circle cx="817" cy="718.2" r="2.9"/>
<circle cx="821.2" cy="729.5" r="2.9"/>
<circle cx="824.5" cy="729" r="2.9"/>
<circle cx="770.8" cy="752" r="2.9"/>
<circle cx="815.5" cy="764.2" r="2.9"/>
<circle cx="810.5" cy="768" r="2.9"/>
<circle cx="834" cy="794.5" r="2.9"/>
<circle cx="828.5" cy="801.2" r="2.9"/>
<circle cx="827" cy="805.5" r="2.9"/>
<circle cx="772.5" cy="801.5" r="2.9"/>
<circle cx="844.8" cy="806.2" r="2.9"/>
<circle cx="845.2" cy="810.5" r="2.9"/>
<circle cx="856" cy="804.8" r="2.9"/>
<circle cx="748" cy="812" r="2.9"/>
<circle cx="750" cy="816.8" r="2.9"/>
<circle cx="797.8" cy="810.8" r="2.9"/>
<circle cx="779.8" cy="813" r="2.9"/>
<circle cx="779.8" cy="813" r="2.9"/>
<circle cx="777.5" cy="817" r="2.9"/>
<circle cx="783" cy="819" r="2.9"/>
<circle cx="779" cy="820.5" r="2.9"/>
<circle cx="757.5" cy="820.5" r="2.9"/>
<circle cx="850.5" cy="820.2" r="2.9"/>
<circle cx="856.5" cy="820.8" r="2.9"/>
<circle cx="862.5" cy="825" r="2.9"/>
<circle cx="798.5" cy="823.8" r="2.9"/>
<circle cx="817" cy="823" r="2.9"/>
<circle cx="817" cy="823" r="2.9"/>
<circle cx="821" cy="825.5" r="2.9"/>
<circle cx="817" cy="826.2" r="2.9"/>
<circle cx="778" cy="830" r="2.9"/>
<circle cx="803.5" cy="830.5" r="2.9"/>
<circle cx="749.8" cy="832" r="2.9"/>
<circle cx="818" cy="834" r="2.9"/>
<circle cx="781.8" cy="835" r="2.9"/>
<circle cx="758.5" cy="836.2" r="2.9"/>
<circle cx="760" cy="838.5" r="2.9"/>
<circle cx="813.5" cy="842.5" r="2.9"/>
<circle cx="829.5" cy="841.2" r="2.9"/>
<circle cx="634.8" cy="741.2" r="2.9"/>
<circle cx="635" cy="756.2" r="2.9"/>
<circle cx="641.6" cy="759.4" r="2.9"/>
<circle cx="635.4" cy="762.5" r="2.9"/>
<circle cx="666.6" cy="756.9" r="2.9"/>
<circle cx="690.4" cy="773.1" r="2.9"/>
<circle cx="636" cy="777.5" r="2.9"/>
<circle cx="632.9" cy="781.9" r="2.9"/>
<circle cx="686.9" cy="781.2" r="2.9"/>
<circle cx="635.8" cy="791.2" r="2.9"/>
<circle cx="635.8" cy="791.2" r="2.9"/>
<circle cx="646" cy="791.9" r="2.9"/>
<circle cx="663.2" cy="795.6" r="2.9"/>
<circle cx="712.9" cy="795.6" r="2.9"/>
<circle cx="684.8" cy="798.5" r="2.9"/>
<circle cx="684.8" cy="798.5" r="2.9"/>
<circle cx="632.9" cy="801.2" r="2.9"/>
<circle cx="637.2" cy="801.9" r="2.9"/>
<circle cx="634.8" cy="805" r="2.9"/>
<circle cx="634.8" cy="805" r="2.9"/>
<circle cx="633.5" cy="807.5" r="2.9"/>
<circle cx="657.9" cy="803.1" r="2.9"/>
<circle cx="676" cy="804.1" r="2.9"/>
<circle cx="649.8" cy="807.5" r="2.9"/>
<circle cx="649.8" cy="807.5" r="2.9"/>
<circle cx="647.9" cy="809.4" r="2.9"/>
<circle cx="646.4" cy="813.1" r="2.9"/>
<circle cx="721.9" cy="812.1" r="2.9"/>
<circle cx="654.1" cy="816.6" r="2.9"/>
<circle cx="679.1" cy="818.1" r="2.9"/>
<circle cx="708.2" cy="818.8" r="2.9"/>
<circle cx="691" cy="821.9" r="2.9"/>
<circle cx="642.9" cy="821.2" r="2.9"/>
<circle cx="661.6" cy="823.8" r="2.9"/>
<circle cx="661.6" cy="823.8" r="2.9"/>
<circle cx="669.8" cy="826.2" r="2.9"/>
<circle cx="667.9" cy="828.8" r="2.9"/>
<circle cx="667.9" cy="828.8" r="2.9"/>
<circle cx="656" cy="827.5" r="2.9"/>
<circle cx="697.2" cy="826.2" r="2.9"/>
<circle cx="698.5" cy="828.1" r="2.9"/>
<circle cx="707.9" cy="823.8" r="2.9"/>
<circle cx="719.5" cy="826.9" r="2.9"/>
<circle cx="737.9" cy="825" r="2.9"/>
<circle cx="737.9" cy="825" r="2.9"/>
<circle cx="740.4" cy="828.1" r="2.9"/>
<circle cx="739.8" cy="834.4" r="2.9"/>
<circle cx="708.5" cy="829.4" r="2.9"/>
<circle cx="708.5" cy="829.4" r="2.9"/>
<circle cx="705.4" cy="832.5" r="2.9"/>
<circle cx="705.4" cy="832.5" r="2.9"/>
<circle cx="712.2" cy="833.1" r="2.9"/>
<circle cx="712.2" cy="833.1" r="2.9"/>
<circle cx="715.4" cy="830.6" r="2.9"/>
<circle cx="691" cy="830" r="2.9"/>
<circle cx="694.8" cy="835" r="2.9"/>
<circle cx="679.8" cy="830" r="2.9"/>
<circle cx="679.8" cy="830" r="2.9"/>
<circle cx="677.9" cy="833.8" r="2.9"/>
<circle cx="677.9" cy="833.8" r="2.9"/>
<circle cx="681" cy="835" r="2.9"/>
<circle cx="681" cy="835" r="2.9"/>
<circle cx="676" cy="837.5" r="2.9"/>
<circle cx="676" cy="837.5" r="2.9"/>
<circle cx="683.5" cy="837.5" r="2.9"/>
<circle cx="683.5" cy="837.5" r="2.9"/>
<circle cx="673.5" cy="835" r="2.9"/>
<circle cx="678.5" cy="840" r="2.9"/>
<circle cx="678.5" cy="840" r="2.9"/>
<circle cx="684.1" cy="832.5" r="2.9"/>
<circle cx="651.6" cy="833.8" r="2.9"/>
<circle cx="651.6" cy="833.8" r="2.9"/>
<circle cx="648.5" cy="836.2" r="2.9"/>
<circle cx="648.5" cy="836.2" r="2.9"/>
<circle cx="653.5" cy="838.8" r="2.9"/>
<circle cx="653.5" cy="838.8" r="2.9"/>
<circle cx="657.2" cy="837.5" r="2.9"/>
<circle cx="657.2" cy="837.5" r="2.9"/>
<circle cx="659.8" cy="840" r="2.9"/>
<circle cx="659.8" cy="840" r="2.9"/>
<circle cx="663.5" cy="841.2" r="2.9"/>
<circle cx="663.5" cy="841.2" r="2.9"/>
<circle cx="666" cy="840" r="2.9"/>
<circle cx="661" cy="835" r="2.9"/>
<circle cx="646" cy="833.8" r="2.9"/>
<circle cx="664.8" cy="836.2" r="2.9"/>
<circle cx="674.8" cy="841.9" r="2.9"/>
<circle cx="674.8" cy="841.9" r="2.9"/>
<circle cx="681" cy="841.2" r="2.9"/>
<circle cx="681" cy="841.2" r="2.9"/>
<circle cx="703.5" cy="841.2" r="2.9"/>
<circle cx="708.5" cy="838.8" r="2.9"/>
<circle cx="713.5" cy="840" r="2.9"/>
<circle cx="718.5" cy="839.4" r="2.9"/>
<circle cx="642.9" cy="838.8" r="2.9"/>
<circle cx="642.9" cy="841.9" r="2.9"/>
<circle cx="642.9" cy="841.9" r="2.9"/>
<circle cx="646" cy="842.5" r="2.9"/>
<circle cx="646" cy="842.5" r="2.9"/>
<circle cx="649.8" cy="843.1" r="2.9"/>
<circle cx="649.8" cy="843.1" r="2.9"/>
<circle cx="654.8" cy="843.1" r="2.9"/>
<circle cx="654.8" cy="843.1" r="2.9"/>
<circle cx="659.1" cy="843.5" r="2.9"/>
<circle cx="686" cy="830" r="2.9"/>
<circle cx="688.5" cy="833.1" r="2.9"/>
<circle cx="633.5" cy="814.8" r="2.9"/>
<circle cx="633.5" cy="814.8" r="2.9"/>
<circle cx="633.5" cy="814.8" r="2.9"/>
<circle cx="635.1" cy="814.8" r="2.9"/>
<circle cx="635.1" cy="814.8" r="2.9"/>
<circle cx="635.1" cy="814.8" r="2.9"/>
<circle cx="636.8" cy="814.8" r="2.9"/>
<circle cx="636.8" cy="814.8" r="2.9"/>
<circle cx="636.8" cy="814.8" r="2.9"/>
<circle cx="634.2" cy="816.1" r="2.9"/>
<circle cx="634.2" cy="816.1" r="2.9"/>
<circle cx="634.2" cy="816.1" r="2.9"/>
<circle cx="635.9" cy="816.1" r="2.9"/>
<circle cx="635.9" cy="816.1" r="2.9"/>
<circle cx="635.9" cy="816.1" r="2.9"/>
<circle cx="637.5" cy="816.1" r="2.9"/>
<circle cx="637.5" cy="816.1" r="2.9"/>
<circle cx="637.5" cy="816.1" r="2.9"/>
<circle cx="633.5" cy="817.5" r="2.9"/>
<circle cx="633.5" cy="817.5" r="2.9"/>
<circle cx="633.5" cy="817.5" r="2.9"/>
<circle cx="635.1" cy="817.5" r="2.9"/>
<circle cx="635.1" cy="817.5" r="2.9"/>
<circle cx="635.1" cy="817.5" r="2.9"/>
<circle cx="636.8" cy="817.5" r="2.9"/>
<circle cx="636.8" cy="817.5" r="2.9"/>
<circle cx="636.8" cy="817.5" r="2.9"/>
<circle cx="638.4" cy="817.5" r="2.9"/>
<circle cx="638.4" cy="817.5" r="2.9"/>
<circle cx="638.4" cy="817.5" r="2.9"/>
<circle cx="640" cy="817.5" r="2.9"/>
<circle cx="640" cy="817.5" r="2.9"/>
<circle cx="634.2" cy="818.9" r="2.9"/>
<circle cx="634.2" cy="818.9" r="2.9"/>
<circle cx="634.2" cy="818.9" r="2.9"/>
<circle cx="635.9" cy="818.9" r="2.9"/>
<circle cx="635.9" cy="818.9" r="2.9"/>
<circle cx="635.9" cy="818.9" r="2.9"/>
<circle cx="637.5" cy="818.9" r="2.9"/>
<circle cx="637.5" cy="818.9" r="2.9"/>
<circle cx="637.5" cy="818.9" r="2.9"/>
<circle cx="639.1" cy="818.9" r="2.9"/>
<circle cx="639.1" cy="818.9" r="2.9"/>
<circle cx="633.5" cy="820.2" r="2.9"/>
<circle cx="633.5" cy="820.2" r="2.9"/>
<circle cx="633.5" cy="820.2" r="2.9"/>
<circle cx="635.1" cy="820.2" r="2.9"/>
<circle cx="635.1" cy="820.2" r="2.9"/>
<circle cx="635.1" cy="820.2" r="2.9"/>
<circle cx="636.8" cy="820.2" r="2.9"/>
<circle cx="636.8" cy="820.2" r="2.9"/>
<circle cx="636.8" cy="820.2" r="2.9"/>
<circle cx="638.4" cy="820.2" r="2.9"/>
<circle cx="638.4" cy="820.2" r="2.9"/>
<circle cx="638.4" cy="820.2" r="2.9"/>
<circle cx="640" cy="820.2" r="2.9"/>
<circle cx="640" cy="820.2" r="2.9"/>
<circle cx="634.2" cy="821.6" r="2.9"/>
<circle cx="634.2" cy="821.6" r="2.9"/>
<circle cx="634.2" cy="821.6" r="2.9"/>
<circle cx="635.9" cy="821.6" r="2.9"/>
<circle cx="635.9" cy="821.6" r="2.9"/>
<circle cx="635.9" cy="821.6" r="2.9"/>
<circle cx="637.5" cy="821.6" r="2.9"/>
<circle cx="637.5" cy="821.6" r="2.9"/>
<circle cx="637.5" cy="821.6" r="2.9"/>
<circle cx="639.1" cy="821.6" r="2.9"/>
<circle cx="639.1" cy="821.6" r="2.9"/>
<circle cx="633.5" cy="823" r="2.9"/>
<circle cx="633.5" cy="823" r="2.9"/>
<circle cx="633.5" cy="823" r="2.9"/>
<circle cx="635.1" cy="823" r="2.9"/>
<circle cx="635.1" cy="823" r="2.9"/>
<circle cx="635.1" cy="823" r="2.9"/>
<circle cx="636.8" cy="823" r="2.9"/>
<circle cx="636.8" cy="823" r="2.9"/>
<circle cx="636.8" cy="823" r="2.9"/>
<circle cx="638.4" cy="823" r="2.9"/>
<circle cx="638.4" cy="823" r="2.9"/>
<circle cx="638.4" cy="823" r="2.9"/>
<circle cx="640" cy="823" r="2.9"/>
<circle cx="640" cy="823" r="2.9"/>
<circle cx="634.2" cy="824.4" r="2.9"/>
<circle cx="634.2" cy="824.4" r="2.9"/>
<circle cx="634.2" cy="824.4" r="2.9"/>
<circle cx="635.9" cy="824.4" r="2.9"/>
<circle cx="635.9" cy="824.4" r="2.9"/>
<circle cx="635.9" cy="824.4" r="2.9"/>
<circle cx="637.5" cy="824.4" r="2.9"/>
<circle cx="637.5" cy="824.4" r="2.9"/>
<circle cx="637.5" cy="824.4" r="2.9"/>
<circle cx="639.1" cy="824.4" r="2.9"/>
<circle cx="639.1" cy="824.4" r="2.9"/>
<circle cx="633.5" cy="825.8" r="2.9"/>
<circle cx="633.5" cy="825.8" r="2.9"/>
<circle cx="633.5" cy="825.8" r="2.9"/>
<circle cx="635.1" cy="825.8" r="2.9"/>
<circle cx="635.1" cy="825.8" r="2.9"/>
<circle cx="635.1" cy="825.8" r="2.9"/>
<circle cx="636.8" cy="825.8" r="2.9"/>
<circle cx="636.8" cy="825.8" r="2.9"/>
<circle cx="636.8" cy="825.8" r="2.9"/>
<circle cx="638.4" cy="825.8" r="2.9"/>
<circle cx="638.4" cy="825.8" r="2.9"/>
<circle cx="638.4" cy="825.8" r="2.9"/>
<circle cx="640" cy="825.8" r="2.9"/>
<circle cx="640" cy="825.8" r="2.9"/>
<circle cx="634.2" cy="827.1" r="2.9"/>
<circle cx="634.2" cy="827.1" r="2.9"/>
<circle cx="634.2" cy="827.1" r="2.9"/>
<circle cx="635.9" cy="827.1" r="2.9"/>
<circle cx="635.9" cy="827.1" r="2.9"/>
<circle cx="635.9" cy="827.1" r="2.9"/>
<circle cx="637.5" cy="827.1" r="2.9"/>
<circle cx="637.5" cy="827.1" r="2.9"/>
<circle cx="637.5" cy="827.1" r="2.9"/>
<circle cx="639.1" cy="827.1" r="2.9"/>
<circle cx="639.1" cy="827.1" r="2.9"/>
<circle cx="633.5" cy="828.5" r="2.9"/>
<circle cx="633.5" cy="828.5" r="2.9"/>
<circle cx="633.5" cy="828.5" r="2.9"/>
<circle cx="635.1" cy="828.5" r="2.9"/>
<circle cx="635.1" cy="828.5" r="2.9"/>
<circle cx="635.1" cy="828.5" r="2.9"/>
<circle cx="636.8" cy="828.5" r="2.9"/>
<circle cx="636.8" cy="828.5" r="2.9"/>
<circle cx="636.8" cy="828.5" r="2.9"/>
<circle cx="638.4" cy="828.5" r="2.9"/>
<circle cx="638.4" cy="828.5" r="2.9"/>
<circle cx="638.4" cy="828.5" r="2.9"/>
<circle cx="640" cy="828.5" r="2.9"/>
<circle cx="640" cy="828.5" r="2.9"/>
<circle cx="634.2" cy="829.9" r="2.9"/>
<circle cx="634.2" cy="829.9" r="2.9"/>
<circle cx="634.2" cy="829.9" r="2.9"/>
<circle cx="635.9" cy="829.9" r="2.9"/>
<circle cx="635.9" cy="829.9" r="2.9"/>
<circle cx="635.9" cy="829.9" r="2.9"/>
<circle cx="637.5" cy="829.9" r="2.9"/>
<circle cx="637.5" cy="829.9" r="2.9"/>
<circle cx="637.5" cy="829.9" r="2.9"/>
<circle cx="639.1" cy="829.9" r="2.9"/>
<circle cx="639.1" cy="829.9" r="2.9"/>
<circle cx="633.5" cy="831.2" r="2.9"/>
<circle cx="633.5" cy="831.2" r="2.9"/>
<circle cx="633.5" cy="831.2" r="2.9"/>
<circle cx="635.1" cy="831.2" r="2.9"/>
<circle cx="635.1" cy="831.2" r="2.9"/>
<circle cx="635.1" cy="831.2" r="2.9"/>
<circle cx="636.8" cy="831.2" r="2.9"/>
<circle cx="636.8" cy="831.2" r="2.9"/>
<circle cx="636.8" cy="831.2" r="2.9"/>
<circle cx="638.4" cy="831.2" r="2.9"/>
<circle cx="638.4" cy="831.2" r="2.9"/>
<circle cx="638.4" cy="831.2" r="2.9"/>
<circle cx="640" cy="831.2" r="2.9"/>
<circle cx="640" cy="831.2" r="2.9"/>
<circle cx="634.2" cy="832.6" r="2.9"/>
<circle cx="634.2" cy="832.6" r="2.9"/>
<circle cx="634.2" cy="832.6" r="2.9"/>
<circle cx="635.9" cy="832.6" r="2.9"/>
<circle cx="635.9" cy="832.6" r="2.9"/>
<circle cx="635.9" cy="832.6" r="2.9"/>
<circle cx="637.5" cy="832.6" r="2.9"/>
<circle cx="637.5" cy="832.6" r="2.9"/>
<circle cx="637.5" cy="832.6" r="2.9"/>
<circle cx="639.1" cy="832.6" r="2.9"/>
<circle cx="639.1" cy="832.6" r="2.9"/>
<circle cx="633.5" cy="834" r="2.9"/>
<circle cx="633.5" cy="834" r="2.9"/>
<circle cx="633.5" cy="834" r="2.9"/>
<circle cx="635.1" cy="834" r="2.9"/>
<circle cx="635.1" cy="834" r="2.9"/>
<circle cx="635.1" cy="834" r="2.9"/>
<circle cx="636.8" cy="834" r="2.9"/>
<circle cx="636.8" cy="834" r="2.9"/>
<circle cx="636.8" cy="834" r="2.9"/>
<circle cx="638.4" cy="834" r="2.9"/>
<circle cx="638.4" cy="834" r="2.9"/>
<circle cx="638.4" cy="834" r="2.9"/>
<circle cx="640" cy="834" r="2.9"/>
<circle cx="640" cy="834" r="2.9"/>
<circle cx="634.2" cy="835.4" r="2.9"/>
<circle cx="634.2" cy="835.4" r="2.9"/>
<circle cx="634.2" cy="835.4" r="2.9"/>
<circle cx="635.9" cy="835.4" r="2.9"/>
<circle cx="635.9" cy="835.4" r="2.9"/>
<circle cx="635.9" cy="835.4" r="2.9"/>
<circle cx="637.5" cy="835.4" r="2.9"/>
<circle cx="637.5" cy="835.4" r="2.9"/>
<circle cx="637.5" cy="835.4" r="2.9"/>
<circle cx="639.1" cy="835.4" r="2.9"/>
<circle cx="639.1" cy="835.4" r="2.9"/>
<circle cx="633.5" cy="836.8" r="2.9"/>
<circle cx="633.5" cy="836.8" r="2.9"/>
<circle cx="633.5" cy="836.8" r="2.9"/>
<circle cx="635.1" cy="836.8" r="2.9"/>
<circle cx="635.1" cy="836.8" r="2.9"/>
<circle cx="635.1" cy="836.8" r="2.9"/>
<circle cx="636.8" cy="836.8" r="2.9"/>
<circle cx="636.8" cy="836.8" r="2.9"/>
<circle cx="636.8" cy="836.8" r="2.9"/>
<circle cx="638.4" cy="836.8" r="2.9"/>
<circle cx="638.4" cy="836.8" r="2.9"/>
<circle cx="638.4" cy="836.8" r="2.9"/>
<circle cx="640" cy="836.8" r="2.9"/>
<circle cx="640" cy="836.8" r="2.9"/>
<circle cx="634.2" cy="838.1" r="2.9"/>
<circle cx="634.2" cy="838.1" r="2.9"/>
<circle cx="634.2" cy="838.1" r="2.9"/>
<circle cx="635.9" cy="838.1" r="2.9"/>
<circle cx="635.9" cy="838.1" r="2.9"/>
<circle cx="635.9" cy="838.1" r="2.9"/>
<circle cx="637.5" cy="838.1" r="2.9"/>
<circle cx="637.5" cy="838.1" r="2.9"/>
<circle cx="637.5" cy="838.1" r="2.9"/>
<circle cx="639.1" cy="838.1" r="2.9"/>
<circle cx="639.1" cy="838.1" r="2.9"/>
<circle cx="633.5" cy="839.5" r="2.9"/>
<circle cx="633.5" cy="839.5" r="2.9"/>
<circle cx="633.5" cy="839.5" r="2.9"/>
<circle cx="635.1" cy="839.5" r="2.9"/>
<circle cx="635.1" cy="839.5" r="2.9"/>
<circle cx="635.1" cy="839.5" r="2.9"/>
<circle cx="636.8" cy="839.5" r="2.9"/>
<circle cx="636.8" cy="839.5" r="2.9"/>
<circle cx="636.8" cy="839.5" r="2.9"/>
<circle cx="638.4" cy="839.5" r="2.9"/>
<circle cx="638.4" cy="839.5" r="2.9"/>
<circle cx="638.4" cy="839.5" r="2.9"/>
<circle cx="640" cy="839.5" r="2.9"/>
<circle cx="640" cy="839.5" r="2.9"/>
<circle cx="634.2" cy="840.9" r="2.9"/>
<circle cx="634.2" cy="840.9" r="2.9"/>
<circle cx="634.2" cy="840.9" r="2.9"/>
<circle cx="635.9" cy="840.9" r="2.9"/>
<circle cx="635.9" cy="840.9" r="2.9"/>
<circle cx="635.9" cy="840.9" r="2.9"/>
<circle cx="637.5" cy="840.9" r="2.9"/>
<circle cx="637.5" cy="840.9" r="2.9"/>
<circle cx="637.5" cy="840.9" r="2.9"/>
<circle cx="639.1" cy="840.9" r="2.9"/>
<circle cx="639.1" cy="840.9" r="2.9"/>
<circle cx="633.5" cy="842.2" r="2.9"/>
<circle cx="633.5" cy="842.2" r="2.9"/>
<circle cx="633.5" cy="842.2" r="2.9"/>
<circle cx="635.1" cy="842.2" r="2.9"/>
<circle cx="635.1" cy="842.2" r="2.9"/>
<circle cx="635.1" cy="842.2" r="2.9"/>
<circle cx="636.8" cy="842.2" r="2.9"/>
<circle cx="636.8" cy="842.2" r="2.9"/>
<circle cx="636.8" cy="842.2" r="2.9"/>
<circle cx="638.4" cy="842.2" r="2.9"/>
<circle cx="638.4" cy="842.2" r="2.9"/>
<circle cx="638.4" cy="842.2" r="2.9"/>
<circle cx="640" cy="842.2" r="2.9"/>
<circle cx="640" cy="842.2" r="2.9"/>
<circle cx="634.2" cy="843.6" r="2.9"/>
<circle cx="634.2" cy="843.6" r="2.9"/>
<circle cx="634.2" cy="843.6" r="2.9"/>
<circle cx="635.9" cy="843.6" r="2.9"/>
<circle cx="635.9" cy="843.6" r="2.9"/>
<circle cx="635.9" cy="843.6" r="2.9"/>
<circle cx="637.5" cy="843.6" r="2.9"/>
<circle cx="637.5" cy="843.6" r="2.9"/>
<circle cx="637.5" cy="843.6" r="2.9"/>
<circle cx="639.1" cy="843.6" r="2.9"/>
<circle cx="639.1" cy="843.6" r="2.9"/>
<circle cx="647.2" cy="835" r="2.9"/>
<circle cx="647.2" cy="835" r="2.9"/>
<circle cx="650.4" cy="838.8" r="2.9"/>
<circle cx="650.4" cy="838.8" r="2.9"/>
<circle cx="652.9" cy="835.6" r="2.9"/>
<circle cx="652.9" cy="835.6" r="2.9"/>
<circle cx="655.4" cy="840.6" r="2.9"/>
<circle cx="655.4" cy="840.6" r="2.9"/>
<circle cx="657.9" cy="835" r="2.9"/>
<circle cx="661.6" cy="838.8" r="2.9"/>
<circle cx="661.6" cy="838.8" r="2.9"/>
<circle cx="665.4" cy="841.9" r="2.9"/>
<circle cx="665.4" cy="841.9" r="2.9"/>
<circle cx="667.2" cy="837.5" r="2.9"/>
<circle cx="647.2" cy="840.6" r="2.9"/>
<circle cx="647.2" cy="840.6" r="2.9"/>
<circle cx="658.5" cy="841.9" r="2.9"/>
<circle cx="658.5" cy="841.9" r="2.9"/>
<circle cx="662.9" cy="835.6" r="2.9"/>
<circle cx="674.1" cy="831.9" r="2.9"/>
<circle cx="674.1" cy="831.9" r="2.9"/>
<circle cx="677.2" cy="830" r="2.9"/>
<circle cx="677.2" cy="830" r="2.9"/>
<circle cx="680.4" cy="833.1" r="2.9"/>
<circle cx="680.4" cy="833.1" r="2.9"/>
<circle cx="682.9" cy="835.6" r="2.9"/>
<circle cx="682.9" cy="835.6" r="2.9"/>
<circle cx="679.1" cy="838.1" r="2.9"/>
<circle cx="679.1" cy="838.1" r="2.9"/>
<circle cx="674.8" cy="839.4" r="2.9"/>
<circle cx="674.8" cy="839.4" r="2.9"/>
<circle cx="672.9" cy="841.9" r="2.9"/>
<circle cx="672.9" cy="841.9" r="2.9"/>
<circle cx="677.2" cy="841.9" r="2.9"/>
<circle cx="677.2" cy="841.9" r="2.9"/>
<circle cx="682.2" cy="840" r="2.9"/>
<circle cx="682.2" cy="840" r="2.9"/>
<circle cx="684.8" cy="841.9" r="2.9"/>
<circle cx="706.6" cy="830" r="2.9"/>
<circle cx="706.6" cy="830" r="2.9"/>
<circle cx="709.8" cy="831.9" r="2.9"/>
<circle cx="709.8" cy="831.9" r="2.9"/>
<circle cx="713.5" cy="832.5" r="2.9"/>
<circle cx="713.5" cy="832.5" r="2.9"/>
<circle cx="703.5" cy="833.1" r="2.9"/>
<circle cx="1001" cy="534" r="2.9"/>
<circle cx="925" cy="701.2" r="2.9"/>
<circle cx="992.2" cy="701.2" r="2.9"/>
<circle cx="1001" cy="701.2" r="2.9"/>
<circle cx="1001" cy="701.2" r="2.9"/>
<circle cx="1001" cy="708.8" r="2.9"/>
<circle cx="1001" cy="715" r="2.9"/>
<circle cx="1001" cy="720.5" r="2.9"/>
<circle cx="1001" cy="726.2" r="2.9"/>
<circle cx="1001" cy="729.5" r="2.9"/>
<circle cx="1001" cy="729.5" r="2.9"/>
<circle cx="1001" cy="735.5" r="2.9"/>
<circle cx="969" cy="741.2" r="2.9"/>
<circle cx="1001" cy="753.8" r="2.9"/>
<circle cx="1001" cy="753.8" r="2.9"/>
<circle cx="1001" cy="759.5" r="2.9"/>
<circle cx="883.8" cy="772" r="2.9"/>
<circle cx="866.5" cy="778" r="2.9"/>
<circle cx="938.2" cy="773.2" r="2.9"/>
<circle cx="1001" cy="772.5" r="2.9"/>
<circle cx="968.2" cy="775.8" r="2.9"/>
<circle cx="974" cy="778.8" r="2.9"/>
<circle cx="892.2" cy="787" r="2.9"/>
<circle cx="903.8" cy="786.2" r="2.9"/>
<circle cx="899" cy="791" r="2.9"/>
<circle cx="955.2" cy="789.5" r="2.9"/>
<circle cx="973.5" cy="794" r="2.9"/>
<circle cx="981.8" cy="798.8" r="2.9"/>
<circle cx="889.8" cy="801.2" r="2.9"/>
<circle cx="1001" cy="802" r="2.9"/>
<circle cx="1001" cy="802" r="2.9"/>
<circle cx="1000" cy="803.2" r="2.9"/>
<circle cx="996.2" cy="806.8" r="2.9"/>
<circle cx="907.5" cy="809.2" r="2.9"/>
<circle cx="984.5" cy="813.8" r="2.9"/>
<circle cx="981.8" cy="817" r="2.9"/>
<circle cx="928.2" cy="819.2" r="2.9"/>
<circle cx="969.8" cy="822.5" r="2.9"/>
<circle cx="1001" cy="821.5" r="2.9"/>
<circle cx="882.2" cy="832" r="2.9"/>
<circle cx="909.8" cy="836.2" r="2.9"/>
<circle cx="873.8" cy="839.2" r="2.9"/>
<line x1="612.6" y1="828.75" x2="1021.6" y2="759.7" stroke="#404040" stroke-width="1.8"/>
</g>
<rect x="612.6" y="462.5" width="409" height="381.5" fill="none" stroke="#969696" stroke-width="1.7"/>
<path d="M612.6 461.7V844.0" fill="none" stroke="#787878" stroke-width="1.8"/>
<path d="M611.7 844.0H1022.4" fill="none" stroke="#888" stroke-width="1.8"/>
<line class="t" x1="632.8" y1="844.0" x2="632.8" y2="848.5"/>
<text class="tk" text-anchor="middle" x="633" y="857.8">.00</text>
<line class="t" x1="724.9" y1="844.0" x2="724.9" y2="848.5"/>
<text class="tk" text-anchor="middle" x="727.4" y="858">50.00</text>
<line class="t" x1="817" y1="844.0" x2="817" y2="848.5"/>
<text class="tk" text-anchor="middle" x="818.5" y="857.5">100.00</text>
<line class="t" x1="909.1" y1="844.0" x2="909.1" y2="848.5"/>
<text class="tk" text-anchor="middle" x="910" y="857.6">150.00</text>
<line class="t" x1="1001.2" y1="844.0" x2="1001.2" y2="848.5"/>
<text class="tk" text-anchor="middle" x="1001.8" y="860.2">200.00</text>
<line class="t" x1="607.1" y1="844" x2="612.6" y2="844"/>
<text class="tk" text-anchor="end" x="603.8" y="847.6">.00</text>
<line class="t" x1="607.1" y1="786.7" x2="612.6" y2="786.7"/>
<text class="tk" text-anchor="end" x="605.8" y="791.5">1000.00</text>
<line class="t" x1="607.1" y1="729.4" x2="612.6" y2="729.4"/>
<text class="tk" text-anchor="end" x="605.8" y="733.4">2000.00</text>
<line class="t" x1="607.1" y1="672.1" x2="612.6" y2="672.1"/>
<text class="tk" text-anchor="end" x="605.8" y="676.1">3000.00</text>
<line class="t" x1="607.1" y1="614.8" x2="612.6" y2="614.8"/>
<text class="tk" text-anchor="end" x="605.8" y="618.8">4000.00</text>
<line class="t" x1="607.1" y1="557.5" x2="612.6" y2="557.5"/>
<text class="tk" text-anchor="end" x="605.8" y="561.5">5000.00</text>
<line class="t" x1="607.1" y1="500.2" x2="612.6" y2="500.2"/>
<text class="tk" text-anchor="end" x="605.8" y="504.2">6000.00</text>
<text class="r2" text-anchor="end" x="1014.4" y="482.0">R<tspan dy="-3" font-size="10.5">2</tspan><tspan dy="3"> Linear = 0.212</tspan></text>
<text class="let" style="font-size:27px" x="569.0" y="478.0">D</text>
<text class="ttl" style="font-size:17px" text-anchor="middle" x="823.8" y="880.2">Derp1 + Derp2</text>
<text class="ttl" style="font-size:16.7px" transform="translate(554.9 717.1) rotate(-90)">Total IgE levels</text>
</g>
</g></svg></body></html>
